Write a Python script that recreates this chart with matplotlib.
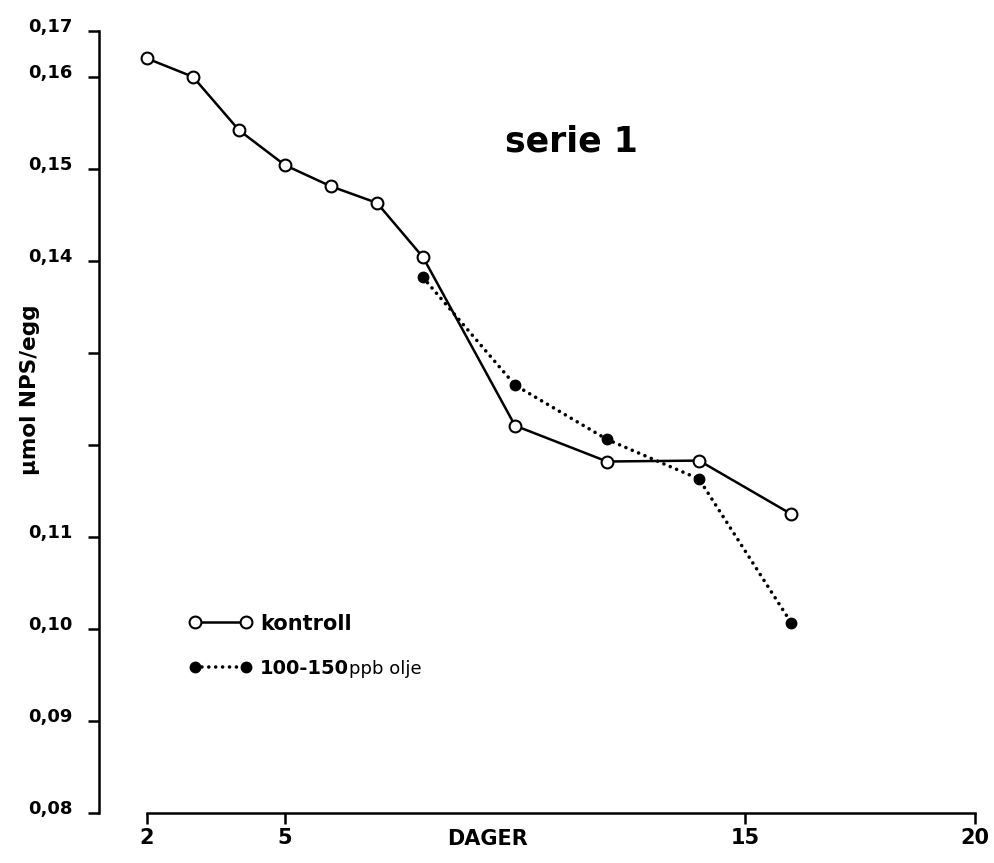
import matplotlib
matplotlib.use('Agg')
import matplotlib.pyplot as plt
from matplotlib.transforms import ScaledTranslation

# verdier lest av figuren (serie 1)
kontroll_dager = [2, 3, 4, 5, 6, 7, 8, 10, 12, 14, 16]
kontroll_nps = [0.1620, 0.1600, 0.1542, 0.1504, 0.1481, 0.1463, 0.1404, 0.1221, 0.1182, 0.1183, 0.1125]

olje_dager = [8, 10, 12, 14, 16]
olje_nps = [0.1382, 0.1265, 0.1206, 0.1163, 0.1007]

x_ticks = [2, 5, 15, 20]
x_tick_labels = ['2', '5', '15', '20']
y_ticks = [0.08, 0.09, 0.10, 0.11, 0.12, 0.13, 0.14, 0.15, 0.16, 0.165]
y_tick_labels = ['0,08', '0,09', '0,10', '0,11', '', '', '0,14', '0,15', '0,16', '0,17']

plt.rcParams['font.family'] = ['DejaVu Sans']

fig = plt.figure(figsize=(9.95, 8.63), dpi=100)
ax = fig.add_axes([0.0995, 0.0579, 0.8945, 0.9085])

ax.plot(kontroll_dager, kontroll_nps, color='black', lw=1.8, marker='o', markersize=8.5,
        markerfacecolor='white', markeredgecolor='black', markeredgewidth=1.5, label='kontroll')
ax.plot(olje_dager, olje_nps, color='black', lw=2.6, linestyle=(0, (0.01, 1.9)),
        dash_capstyle='round', marker='o', markersize=7.5, markerfacecolor='black',
        markeredgecolor='black', label='100-150')

ax.set_xlim(0.9565, 20.304)
ax.set_ylim(0.08, 0.1652)

for side in ['top', 'right']:
    ax.spines[side].set_visible(False)
ax.spines['left'].set_bounds(0.08, 0.165)
ax.spines['bottom'].set_bounds(2, 20)
ax.spines['left'].set_linewidth(1.8)
ax.spines['bottom'].set_linewidth(1.8)

ax.set_xticks(x_ticks)
ax.set_xticklabels(x_tick_labels, fontsize=15, fontweight='bold')
ax.set_yticks(y_ticks)
ax.set_yticklabels(y_tick_labels, fontsize=13, fontweight='bold')
ax.tick_params(axis='x', length=8, width=1.8, pad=3)
ax.tick_params(axis='y', length=8, width=1.8, pad=11)
for lab in ax.get_yticklabels():
    lab.set_transform(lab.get_transform() + ScaledTranslation(0, 4 / 72, fig.dpi_scale_trans))

ax.set_xlabel('DAGER', fontsize=15, fontweight='bold', va='top')
ax.xaxis.set_label_coords(0.4365, -0.021)
ax.set_ylabel('µmol NPS/egg', fontsize=15.5, fontweight='bold')
ax.yaxis.set_label_coords(-0.066, 0.54)

ax.text(0.531, 0.857, 'serie 1', transform=ax.transAxes, fontsize=25, fontweight='bold',
        ha='center', va='center')

leg = ax.legend(loc='upper left', bbox_to_anchor=(0.0915, 0.265), borderaxespad=0,
                frameon=False, numpoints=2, handlelength=3.05, handletextpad=0.38,
                labelspacing=1.22, fontsize=15)
leg.get_texts()[0].set_fontweight('bold')
leg.get_texts()[1].set_fontweight('bold')
leg.get_texts()[1].set_fontsize(14)
ax.annotate('ppb olje', xy=(1, 0), xycoords=leg.get_texts()[1], va='bottom', ha='left',
            fontsize=13, zorder=6)

fig.savefig('out.png', dpi=100)
